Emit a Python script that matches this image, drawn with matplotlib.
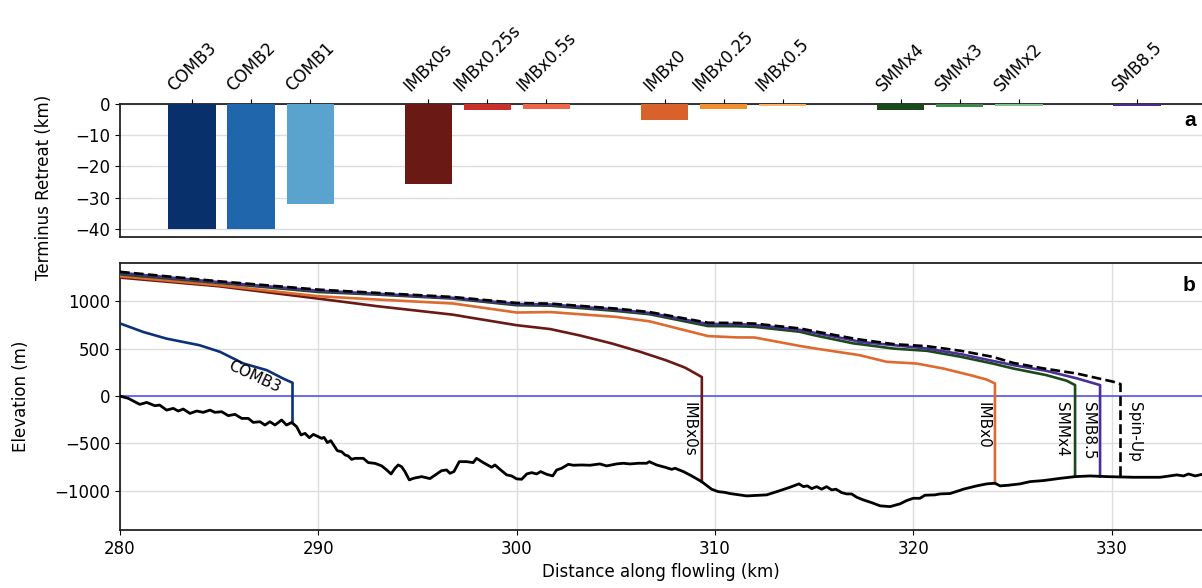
import matplotlib.pyplot as plt
import numpy as np

# --- panel a : terminus retreat per experiment ---
runs = ["COMB3", "COMB2", "COMB1",
        "IMBx0s", "IMBx0.25s", "IMBx0.5s",
        "IMBx0", "IMBx0.25", "IMBx0.5",
        "SMMx4", "SMMx3", "SMMx2",
        "SMB8.5"]
retreat = [-40.2, -40.2, -32.0,
           -25.6, -1.8, -1.6,
           -5.1, -1.5, -0.7,
           -2.0, -0.8, -0.5,
           -0.6]
run_colors = ["#08306b", "#1f66ac", "#5ba3cf",
              "#6b1914", "#c9302c", "#ef6548",
              "#d9622b", "#f28e2b", "#fdae6b",
              "#1a4a1a", "#3b8a47", "#7cc48a",
              "#4a2a8a"]
# slot of each bar (groups separated by an empty slot)
slots = [0, 1, 2, 4, 5, 6, 8, 9, 10, 12, 13, 14, 16]

# --- panel b : bed and surface profiles (km, m) ---
bed_x = [280.0, 280.42, 281.0, 281.35, 281.76, 282.0, 282.35, 282.69, 282.94, 283.19,
         283.53, 283.87, 284.2, 284.54, 284.79, 285.13, 285.46, 285.8, 286.14, 286.47,
         286.72, 287.06, 287.31, 287.56, 287.82, 288.15, 288.4, 288.66, 288.91, 289.13,
         289.33, 289.55, 289.75, 290.0, 290.17, 290.29, 290.46, 290.63, 290.96, 291.18,
         291.35, 291.51, 291.68, 291.85, 292.27, 292.52, 292.86, 293.2, 293.45, 293.67,
         293.87, 294.03, 294.2, 294.37, 294.59, 294.8, 295.21, 295.63, 295.97, 296.22,
         296.47, 296.64, 296.84, 297.11, 297.48, 297.81, 297.98, 298.32, 298.74, 298.91,
         299.16, 299.5, 299.75, 300.0, 300.26, 300.51, 300.76, 301.01, 301.21, 301.51,
         301.82, 302.02, 302.27, 302.61, 302.86, 303.28, 303.7, 304.2, 304.54, 305.04,
         305.38, 305.72, 306.14, 306.56, 306.69, 307.06, 307.48, 307.82, 307.99, 308.41,
         308.83, 309.33, 309.83, 310.17, 310.51, 310.76, 311.6, 312.61, 313.28, 313.79,
         314.24, 314.46, 314.66, 314.88, 315.13, 315.38, 315.63, 315.89, 316.1, 316.39,
         316.64, 316.89, 317.15, 317.48, 317.9, 318.33, 318.83, 319.33, 319.67, 320.0,
         320.34, 320.59, 321.1, 321.35, 321.85, 322.32, 322.52, 323.2, 323.7, 324.12,
         324.38, 324.8, 325.38, 325.89, 326.56, 327.42, 328.18, 328.93, 329.76, 331.1,
         332.45, 333.29, 333.63, 333.88, 334.22, 334.6]
bed_y = [0, -24, -88, -67, -102, -95, -148, -130, -158, -137,
         -183, -158, -172, -148, -172, -165, -207, -193, -236, -236,
         -278, -271, -306, -271, -306, -253, -306, -278, -324, -411,
         -394, -440, -405, -429, -447, -436, -492, -471, -577, -588,
         -622, -633, -669, -658, -658, -703, -711, -738, -781, -823,
         -763, -728, -746, -798, -886, -869, -851, -872, -823, -788,
         -781, -816, -798, -693, -693, -703, -658, -703, -752, -728,
         -774, -833, -844, -875, -879, -823, -809, -823, -798, -826,
         -844, -781, -763, -721, -731, -728, -731, -717, -738, -717,
         -710, -717, -710, -710, -693, -728, -752, -774, -763, -798,
         -844, -904, -984, -1010, -1018, -1030, -1055, -1044, -999, -963,
         -928, -957, -949, -978, -957, -984, -957, -992, -984, -1020,
         -1034, -1034, -1069, -1097, -1126, -1160, -1168, -1139, -1104, -1080,
         -1080, -1048, -1044, -1034, -1030, -999, -984, -949, -928, -921,
         -949, -942, -928, -904, -893, -869, -851, -844, -851, -858,
         -858, -833, -844, -823, -844, -825]

spinup_x = [280.0, 285.0, 290.0, 293.0, 296.8, 300.0, 301.7, 305.0, 306.7, 309.65,
            311.1, 312.0, 314.27, 315.0, 317.0, 317.3, 319.0, 320.7, 322.4, 324.0,
            325.05, 326.6, 328.25, 330.1, 330.45]
spinup_y = [1313, 1213, 1125, 1090, 1047, 984, 977, 925, 888, 775,
            773, 766, 715, 686, 608, 598, 549, 527, 478, 415,
            350, 291, 238, 151, 127]
smb_x = [280.0, 285.0, 290.0, 293.0, 296.8, 300.0, 301.7, 305.0, 306.7, 309.65,
         311.1, 312.0, 314.27, 315.0, 317.0, 317.3, 319.0, 320.7, 322.4, 324.0,
         325.05, 326.7, 328.25, 329.42]
smb_y = [1303, 1204, 1114, 1081, 1038, 973, 968, 915, 878, 762,
         760, 752, 700, 670, 588, 573, 538, 502, 443, 372,
         327, 267, 187, 116]
smm_x = [280.0, 285.0, 290.0, 293.0, 296.8, 300.0, 301.7, 305.0, 306.7, 309.65,
         311.1, 312.0, 314.27, 315.0, 317.0, 317.3, 319.0, 320.7, 322.4, 324.0,
         325.05, 326.7, 327.74, 328.16]
smm_y = [1287, 1195, 1100, 1072, 1030, 960, 955, 900, 865, 740,
         738, 731, 680, 643, 556, 549, 502, 478, 415, 344,
         291, 222, 162, 116]
imb_x = [280.0, 285.0, 290.0, 293.0, 296.8, 300.0, 301.7, 305.0, 306.7, 309.65,
         311.1, 312.0, 314.27, 315.0, 317.3, 318.66, 320.17, 321.52, 322.86,
         323.7, 324.12]
imb_y = [1266, 1171, 1055, 1020, 978, 883, 888, 837, 790, 634,
         620, 619, 530, 505, 432, 362, 344, 291, 222,
         175, 133]
imbs_x = [280.0, 285.0, 290.0, 293.0, 296.8, 297.5, 300.0, 301.7, 303.2, 304.8,
          306.2, 307.55, 308.5, 309.34]
imbs_y = [1252, 1160, 1030, 949, 860, 835, 749, 708, 640, 556,
          470, 377, 300, 201]
comb_x = [280.0, 281.18, 282.35, 284.0, 285.04, 286.22, 287.4, 288.24, 288.7]
comb_y = [768, 677, 607, 538, 468, 345, 274, 184, 141]

plt.rcParams["font.family"] = "DejaVu Sans"
plt.rcParams["font.size"] = 12

fig = plt.figure(figsize=(12.02, 5.88), dpi=100)
ax1 = fig.add_axes([0.0998, 0.597, 0.9002, 0.226])
ax2 = fig.add_axes([0.0998, 0.099, 0.9002, 0.454])

# panel a
ax1.bar(slots, retreat, width=0.8, color=run_colors, linewidth=0, zorder=3)
ax1.set_xlim(-1.22, 17.1)
ax1.set_ylim(-42.6, 0)
ax1.set_yticks([0, -10, -20, -30, -40])
ax1.xaxis.tick_top()
ax1.set_xticks(slots)
ax1.set_xticklabels(runs, rotation=45, ha="center")
ax1.grid(axis="y", color="#dddddd", linewidth=1.0, zorder=0)
ax1.set_ylabel("Terminus Retreat (km)")
ax1.yaxis.set_label_coords(-0.062, 0.37)
ax1.text(0.994, 0.875, "a", transform=ax1.transAxes, ha="right", va="center",
         fontsize=15, fontweight="bold", family="Liberation Sans")

# panel b
ax2.grid(True, color="#dddddd", linewidth=1.0, zorder=0)
ax2.axhline(0, color="#6060f0", linewidth=1.3, zorder=2)


def profile(xs, ys, color, ls="-"):
    xe = xs + [xs[-1]]
    ye = ys + [float(np.interp(xs[-1], bed_x, bed_y))]
    ax2.plot(xe, ye, color=color, linestyle=ls, linewidth=1.9, zorder=3)


profile(comb_x, comb_y, "#0b3278")
profile(imbs_x, imbs_y, "#6b1914")
profile(imb_x, imb_y, "#dd6a2e")
profile(smm_x, smm_y, "#1b4a1a")
profile(smb_x, smb_y, "#4b2f98")
profile(spinup_x, spinup_y, "black", ls="--")
ax2.plot(bed_x, bed_y, color="black", linewidth=2.0, zorder=4)

ax2.text(286.8, 205, "COMB3", rotation=-25, ha="center", va="center", fontsize=11)
for lx, lab in [(308.7, "IMBx0s"), (323.5, "IMBx0"), (327.47, "SMMx4"),
                (328.84, "SMB8.5"), (331.15, "Spin-Up")]:
    ax2.text(lx, -65, lab, rotation=270, ha="center", va="top", fontsize=11)

ax2.set_xlim(280, 334.56)
ax2.set_ylim(-1413, 1408)
ax2.set_xticks([280, 290, 300, 310, 320, 330])
ax2.set_yticks([-1000, -500, 0, 500, 1000])
ax2.set_xlabel("Distance along flowling (km)")
ax2.set_ylabel("Elevation (m)")
ax2.yaxis.set_label_coords(-0.083, 0.5)
ax2.text(0.994, 0.915, "b", transform=ax2.transAxes, ha="right", va="center",
         fontsize=15, fontweight="bold", family="Liberation Sans")

for ax in (ax1, ax2):
    ax.spines["right"].set_visible(False)
    for s in ("left", "top", "bottom"):
        ax.spines[s].set_linewidth(1.3)
        ax.spines[s].set_color("#222222")

fig.savefig("out.png", dpi=100)
